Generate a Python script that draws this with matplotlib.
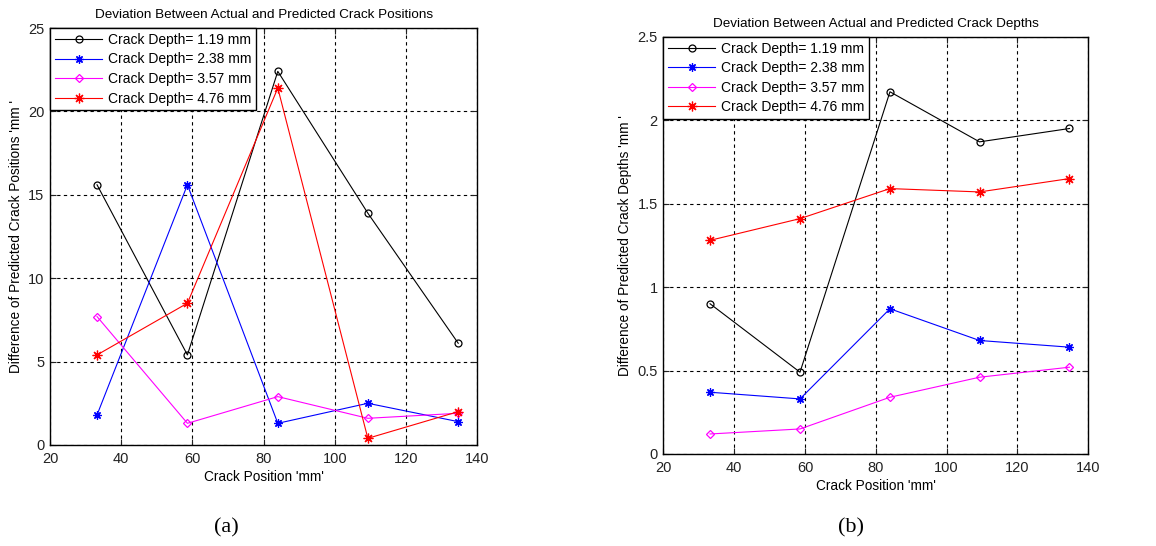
import matplotlib
matplotlib.use("Agg")
import matplotlib.pyplot as plt
import numpy as np

# crack positions along the beam (mm)
positions = [33.2, 58.6, 84.0, 109.3, 134.7]
depth_labels = ['Crack Depth= 1.19 mm', 'Crack Depth= 2.38 mm',
                'Crack Depth= 3.57 mm', 'Crack Depth= 4.76 mm']

# (a) deviation of predicted crack positions
pos_dev_119 = [15.6, 5.4, 22.4, 13.9, 6.1]
pos_dev_238 = [1.8, 15.6, 1.3, 2.5, 1.4]
pos_dev_357 = [7.7, 1.3, 2.9, 1.6, 1.9]
pos_dev_476 = [5.4, 8.5, 21.4, 0.4, 2.0]

# (b) deviation of predicted crack depths
depth_dev_119 = [0.90, 0.49, 2.17, 1.87, 1.95]
depth_dev_238 = [0.37, 0.33, 0.87, 0.68, 0.64]
depth_dev_357 = [0.12, 0.15, 0.34, 0.46, 0.52]
depth_dev_476 = [1.28, 1.41, 1.59, 1.57, 1.65]

# matlab-like asterisk (+ and x)
star = (8, 2, 0)
styles = [
    dict(color='black', marker='o', markerfacecolor='none', markersize=5),
    dict(color='blue', marker=star, markersize=6),
    dict(color='magenta', marker='D', markerfacecolor='none', markersize=4),
    dict(color='red', marker=star, markersize=7),
]

plt.rcParams['font.family'] = ['Liberation Sans', 'DejaVu Sans']

fig = plt.figure(figsize=(11.56, 5.46), dpi=100)
ax1 = fig.add_axes([0.0433, 0.185, 0.3694, 0.7637])
ax2 = fig.add_axes([0.5738, 0.1685, 0.3676, 0.7643])


def draw_panel(ax, series, ylim, yticks, title, ylabel):
    for vals, lab, st in zip(series, depth_labels, styles):
        ax.plot(positions, vals, label=lab, linewidth=0.8, markeredgewidth=0.9, **st)
    ax.set_xlim(20, 140)
    ax.set_ylim(*ylim)
    ax.set_xticks(np.arange(20, 141, 20))
    ax.set_yticks(yticks)
    ax.grid(True, color='black', linestyle=(0, (3, 3)), linewidth=0.8)
    ax.tick_params(direction='in', top=True, right=True, labelsize=10.5, length=4,
                   colors='#222222')
    ax.tick_params(axis='x', pad=5)
    ax.tick_params(axis='y', pad=4)
    for sp in ax.spines.values():
        sp.set_linewidth(1.0)
    ax.set_title(title, fontsize=9.7, pad=7)
    ax.set_xlabel("Crack Position 'mm'", fontsize=9.8, labelpad=3)
    ax.set_ylabel(ylabel, fontsize=9.8, labelpad=4)
    leg = ax.legend(loc='upper left', fontsize=10, borderaxespad=0, fancybox=False,
                    framealpha=1, edgecolor='black', handlelength=3.4,
                    borderpad=0.35, labelspacing=0.4, handletextpad=0.4)
    leg.get_frame().set_linewidth(1.0)


draw_panel(ax1, [pos_dev_119, pos_dev_238, pos_dev_357, pos_dev_476],
           (0, 25), np.arange(0, 26, 5),
           'Deviation Between Actual and Predicted Crack Positions',
           "Difference of Predicted Crack Positions 'mm '")
draw_panel(ax2, [depth_dev_119, depth_dev_238, depth_dev_357, depth_dev_476],
           (0, 2.5), np.arange(0, 2.51, 0.5),
           'Deviation Between Actual and Predicted Crack Depths',
           "Difference of Predicted Crack Depths 'mm '")
ax2.set_yticklabels(['0', '0.5', '1', '1.5', '2', '2.5'])

fig.text(226 / 1156, 1 - 528 / 546, '(a)', family='Liberation Serif', fontsize=16,
         ha='center', va='center')
fig.text(851 / 1156, 1 - 528 / 546, '(b)', family='Liberation Serif', fontsize=16,
         ha='center', va='center')

fig.savefig('out.png', dpi=100)
